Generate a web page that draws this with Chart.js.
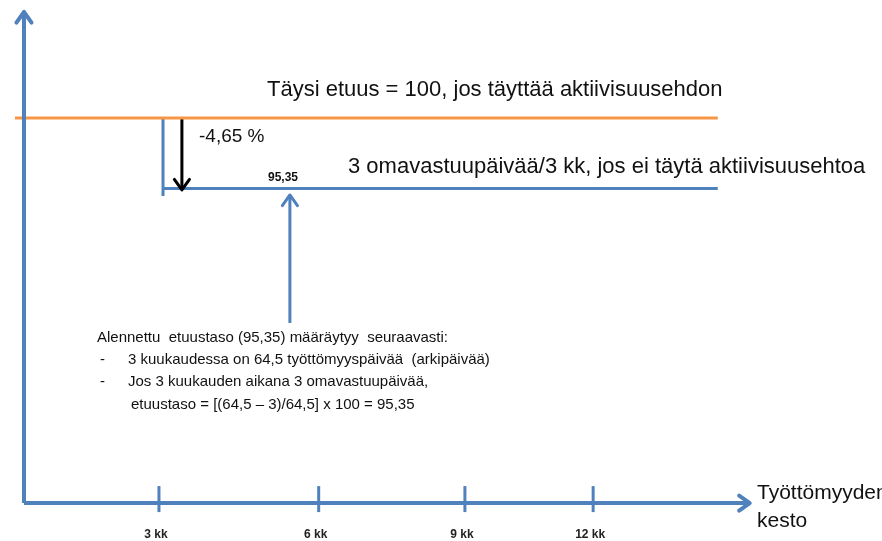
<!DOCTYPE html>
<html>
<head>
<meta charset="utf-8">
<script src="https://cdn.jsdelivr.net/npm/chart.js@4.4.1/dist/chart.umd.min.js"></script>
<style>
  html, body { margin: 0; padding: 0; background: #fff; }
  #c { display: block; }
</style>
</head>
<body>
<canvas id="c" width="882" height="541"></canvas>
<script>
// months on x, benefit level on y (diagram is not to scale)
const tickLabels = ['3 kk', '6 kk', '9 kk', '12 kk'];
const tickPos = [3, 6.55, 9.8, 12.65];

const fullBenefit = [{ x: -0.2, y: 100 }, { x: 15.42, y: 100 }];
const reducedBenefit = [{ x: 3.09, y: 95.35 }, { x: 15.42, y: 95.35 }];
const stepLine = [{ x: 3.09, y: 100 }, { x: 3.09, y: 94.85 }];
const dropArrow = [{ x: 3.51, y: 100 }, { x: 3.51, y: 95.25 }];
const pointerArrow = [{ x: 5.91, y: 86.48 }, { x: 5.91, y: 94.92 }];
const yAxisLine = [{ x: 0, y: 74.6 }, { x: 0, y: 106.99 }];
const xAxisLine = [{ x: 0, y: 74.6 }, { x: 16.13, y: 74.6 }];

const BLUE = '#4F81BD';
const ORANGE = '#F79646';
const FONT = '"Liberation Sans", Arial, sans-serif';

function seg(data, color, width, arrow) {
  return {
    data: data, borderColor: color, borderWidth: width, pointRadius: 0,
    fill: false, tension: 0, arrow: arrow || false, borderCapStyle: 'butt'
  };
}

// arrowheads, ticks and texts
const diagramPlugin = {
  id: 'diagram',
  afterDatasetsDraw(chart) {
    const ctx = chart.ctx;
    const xs = chart.scales.x, ys = chart.scales.y;
    const px = v => xs.getPixelForValue(v);
    const py = v => ys.getPixelForValue(v);

    // arrowheads
    chart.data.datasets.forEach(ds => {
      if (!ds.arrow) return;
      const a = ds.data[ds.data.length - 2], b = ds.data[ds.data.length - 1];
      const x1 = px(a.x), y1 = py(a.y), x2 = px(b.x), y2 = py(b.y);
      const ang = Math.atan2(y2 - y1, x2 - x1);
      const len = 13, spread = 0.62;
      ctx.save();
      ctx.strokeStyle = ds.borderColor;
      ctx.lineWidth = ds.borderWidth;
      ctx.lineCap = 'round';
      ctx.lineJoin = 'round';
      ctx.beginPath();
      ctx.moveTo(x2 - len * Math.cos(ang - spread), y2 - len * Math.sin(ang - spread));
      ctx.lineTo(x2, y2);
      ctx.lineTo(x2 - len * Math.cos(ang + spread), y2 - len * Math.sin(ang + spread));
      ctx.stroke();
      ctx.restore();
    });

    // x ticks
    const axisY = py(xAxisLine[0].y);
    ctx.save();
    ctx.strokeStyle = BLUE;
    ctx.lineWidth = 3;
    tickPos.forEach((t, i) => {
      const x = px(t);
      ctx.beginPath();
      ctx.moveTo(x, axisY - 17);
      ctx.lineTo(x, axisY + 9);
      ctx.stroke();
      ctx.fillStyle = '#222';
      ctx.font = 'bold 12px ' + FONT;
      ctx.textAlign = 'center';
      ctx.textBaseline = 'middle';
      ctx.fillText(tickLabels[i], x - 3, axisY + 32);
    });
    ctx.restore();

    // texts
    ctx.save();
    ctx.fillStyle = '#111';
    ctx.textBaseline = 'middle';
    ctx.textAlign = 'left';
    ctx.font = '22px ' + FONT;
    ctx.fillText('Täysi etuus = 100, jos täyttää aktiivisuusehdon', 267, py(100) - 28, 456);
    ctx.fillText('3 omavastuupäivää/3 kk, jos ei täytä aktiivisuusehtoa', 348, py(95.35) - 22, 522);
    ctx.font = '19px ' + FONT;
    ctx.fillText('-4,65 %', 199, 137, 68);
    ctx.font = 'bold 12px ' + FONT;
    ctx.fillText('95,35', 268, py(95.35) - 11, 35);

    ctx.font = '21px ' + FONT;
    ctx.fillText('Työttömyyden', 757, axisY - 10);
    ctx.fillText('kesto', 757, axisY + 18);

    ctx.font = '15px ' + FONT;
    ctx.fillText('Alennettu  etuustaso (95,35) määräytyy  seuraavasti:', 97, 338, 356);
    ctx.fillText('-', 100, 360);
    ctx.fillText('3 kuukaudessa on 64,5 työttömyyspäivää  (arkipäivää)', 128, 360, 402);
    ctx.fillText('-', 100, 382);
    ctx.fillText('Jos 3 kuukauden aikana 3 omavastuupäivää,', 128, 382, 309);
    ctx.fillText('etuustaso = [(64,5 \u2013 3)/64,5] x 100 = 95,35', 131, 405, 310);
    ctx.restore();
  }
};

new Chart(document.getElementById('c').getContext('2d'), {
  type: 'line',
  data: {
    datasets: [
      seg(yAxisLine, BLUE, 4, true),
      seg(xAxisLine, BLUE, 4, true),
      seg(fullBenefit, ORANGE, 3),
      seg(stepLine, BLUE, 3),
      seg(reducedBenefit, BLUE, 3),
      seg(dropArrow, '#000', 3, true),
      seg(pointerArrow, BLUE, 3, true)
    ]
  },
  options: {
    responsive: false,
    animation: false,
    layout: { padding: 0 },
    plugins: { legend: { display: false }, tooltip: { enabled: false } },
    scales: {
      x: { type: 'linear', display: false, min: -0.533, max: 19.07 },
      y: { type: 'linear', display: false, min: 72.1, max: 107.78 }
    }
  },
  plugins: [diagramPlugin]
});
</script>
</body>
</html>
